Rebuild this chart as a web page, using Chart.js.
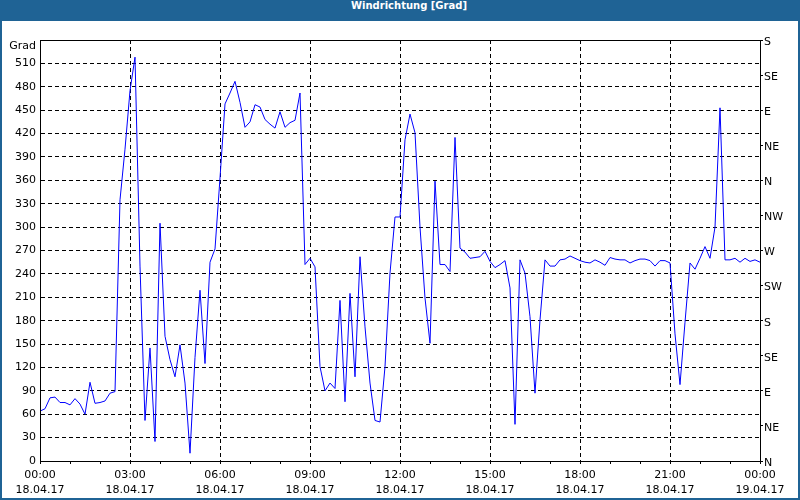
<!DOCTYPE html>
<html>
<head>
<meta charset="utf-8">
<script src="https://cdn.jsdelivr.net/npm/chart.js@4"></script>
<style>
  body { margin: 0; background: #ffffff; }
  #frame { position: relative; width: 800px; height: 500px; background: #1f6395; overflow: hidden; }
  #title { position: absolute; left: 9px; top: 0; width: 800px; height: 20px; line-height: 20px;
           text-align: center; color: #ffffff; font: bold 10px "DejaVu Sans", sans-serif; }
  #panel { position: absolute; left: 2px; top: 21px; width: 796px; height: 477px; background: #ffffff; }
  #chart { position: absolute; left: 0; top: 0; }
</style>
</head>
<body>
<div id="frame">
  <div id="title">Windrichtung [Grad]</div>
  <div id="panel"></div>
  <canvas id="chart" width="800" height="500"></canvas>
</div>
<script>
// Windrichtung in Grad, alle 10 Minuten (18.04.17 00:00 bis 19.04.17 00:00)
const values = [
  64, 67, 81, 82, 75, 75, 72, 80, 73, 60, 101, 74, 75, 77, 87, 89,
  335, 400, 475, 518, 250, 52, 145, 25, 305, 160, 130, 108, 149, 100, 10, 133, 219, 125, 255, 272,
  363, 458, 472, 487, 460, 428, 435, 457, 454, 438, 432, 427, 448, 428, 434, 437, 472,
  252, 260, 249, 121, 90, 100, 93, 206, 76, 215, 108, 262, 172, 100, 52, 50, 121, 241, 313, 313,
  412, 445, 421, 300, 209, 151, 359, 252, 252, 243, 415, 273, 268, 260, 261, 262, 269, 256, 248, 252, 257, 222, 47,
  258, 241, 185, 87, 181,
  258, 250, 250, 258, 259, 263, 260, 257, 255, 254, 258, 255, 251, 261, 259, 258, 258, 254, 257, 259, 259, 257, 250, 257, 257, 254,
  163, 98, 178, 254, 246, 260, 275, 260, 300, 453, 258, 258, 260, 255, 260, 256, 258, 255
];
// Minuten seit Mitternacht
const minutes = values.map((v, i) => i * 10);

const tickTimes = ['00:00', '03:00', '06:00', '09:00', '12:00', '15:00', '18:00', '21:00', '00:00'];
const tickDates = ['18.04.17', '18.04.17', '18.04.17', '18.04.17', '18.04.17', '18.04.17', '18.04.17', '18.04.17', '19.04.17'];
const compass = ['N', 'NE', 'E', 'SE', 'S', 'SW', 'W', 'NW', 'N', 'NE', 'E', 'SE', 'S'];

const font = { family: 'DejaVu Sans', size: 11, lineHeight: 1.36 };

// Rahmen und Achsentitel
const framePlugin = {
  id: 'frame',
  afterDraw(chart) {
    const { ctx, chartArea: a } = chart;
    ctx.save();
    ctx.strokeStyle = '#000';
    ctx.lineWidth = 1;
    ctx.strokeRect(a.left + 0.5, a.top + 0.5, a.right - a.left, a.bottom - a.top);
    ctx.fillStyle = '#000';
    ctx.font = '11px "DejaVu Sans"';
    ctx.textAlign = 'right';
    ctx.textBaseline = 'middle';
    ctx.fillText('Grad', a.left - 4, a.top + 6);
    ctx.restore();
  }
};

new Chart(document.getElementById('chart'), {
  type: 'line',
  data: {
    datasets: [{
      data: values.map((v, i) => ({ x: minutes[i], y: v })),
      borderColor: '#0000ff',
      borderWidth: 1,
      pointRadius: 0,
      tension: 0,
      fill: false
    }]
  },
  options: {
    responsive: false,
    animation: false,
    plugins: { legend: { display: false }, tooltip: { enabled: false } },
    layout: { padding: { top: 40, left: 0, right: 0, bottom: 0 } },
    scales: {
      x: {
        type: 'linear',
        min: 0,
        max: 1440,
        afterFit(s) { s.height = 39; },
        ticks: {
          stepSize: 60,
          autoSkip: false,
          maxRotation: 0,
          padding: 4,
          color: '#000',
          font: font,
          callback(v) {
            if (v % 180 !== 0) return '';
            const k = v / 180;
            return [tickTimes[k], tickDates[k]];
          }
        },
        grid: {
          color: (c) => (c.tick && c.tick.value % 180 === 0 ? '#000' : 'rgba(0,0,0,0)'),
          tickColor: '#000',
          tickLength: 3,
          tickBorderDash: [],
          lineWidth: 1
        },
        border: { display: true, color: '#000', dash: [4, 3] }
      },
      y: {
        position: 'left',
        min: 0,
        max: 540,
        afterFit(s) { s.width = 40; },
        ticks: {
          stepSize: 30,
          padding: 4,
          color: '#000',
          font: font,
          callback: (v) => (v === 540 ? '' : v)
        },
        grid: { color: '#000', drawTicks: false, lineWidth: 1 },
        border: { display: true, color: '#000', dash: [4, 3] }
      },
      y2: {
        position: 'right',
        min: 0,
        max: 540,
        afterFit(s) { s.width = 40; },
        ticks: {
          stepSize: 45,
          padding: 1,
          labelOffset: 2,
          color: '#000',
          font: font,
          callback: (v) => compass[v / 45]
        },
        grid: { drawOnChartArea: false, color: '#000', tickLength: 3 },
        border: { display: true, color: '#000' }
      }
    }
  },
  plugins: [framePlugin]
});
</script>
</body>
</html>
